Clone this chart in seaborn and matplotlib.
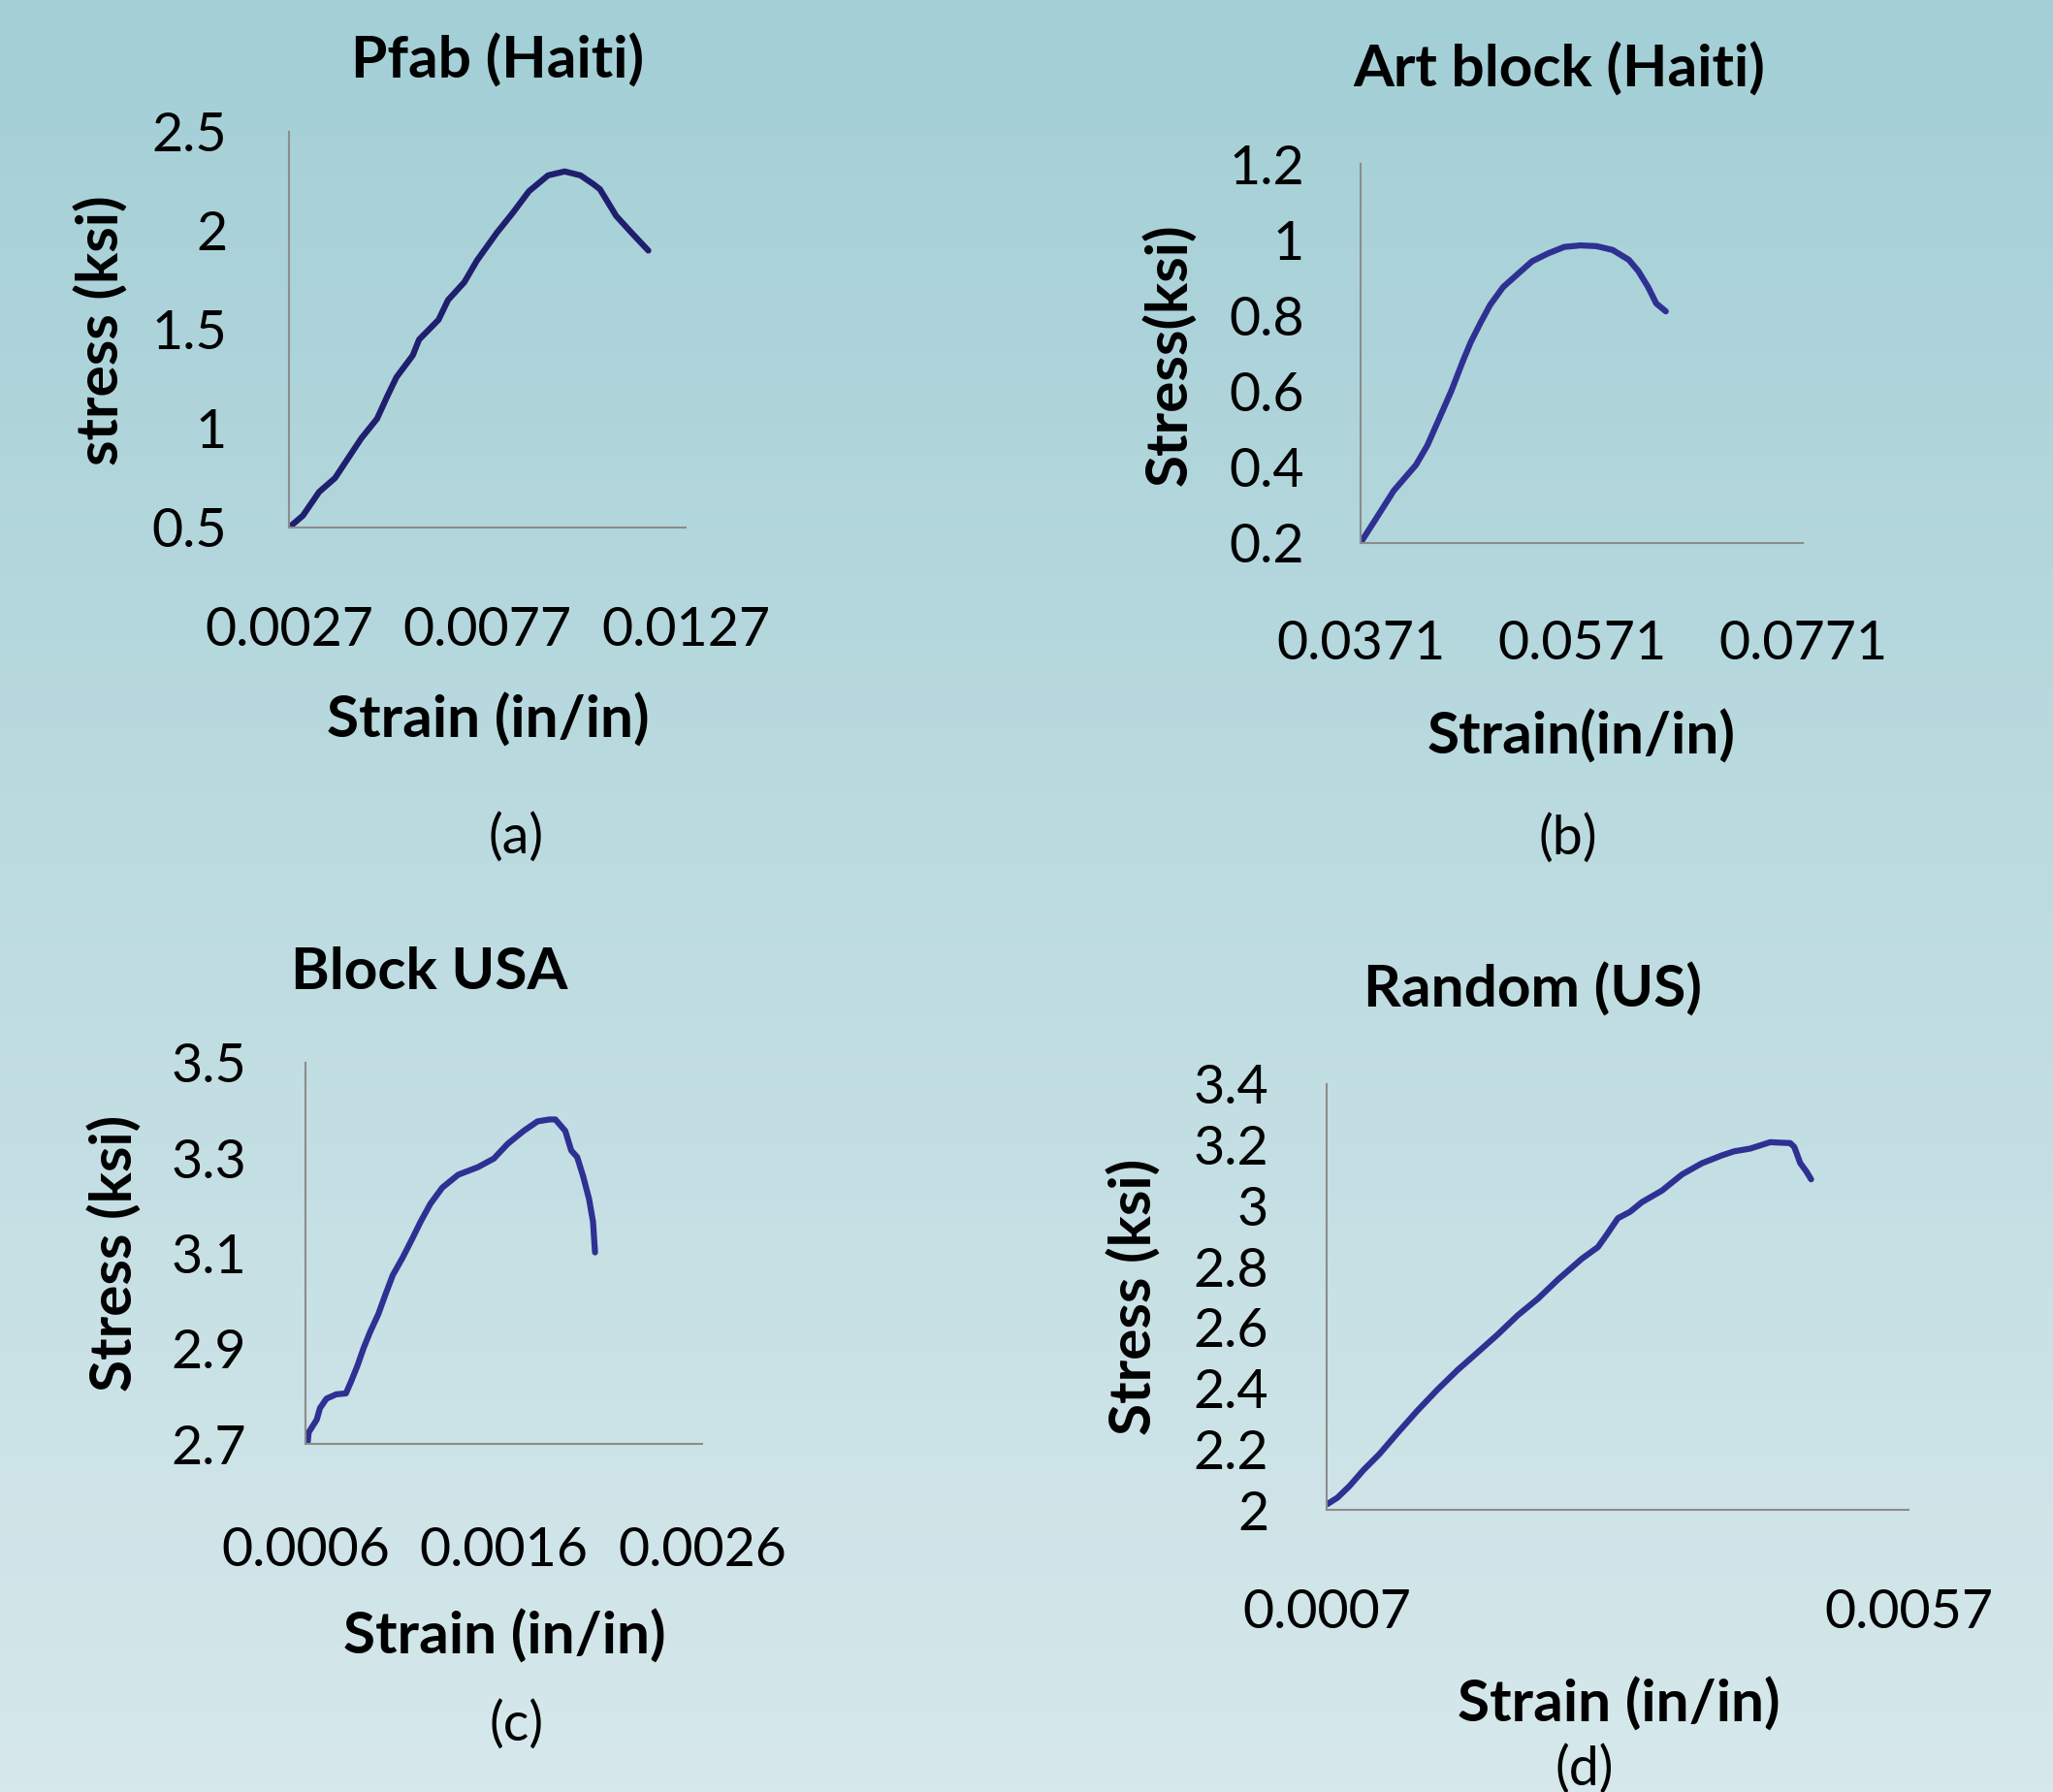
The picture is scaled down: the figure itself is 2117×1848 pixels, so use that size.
"""
Stress-strain curves for four masonry samples (2x2 panel)
"""
import numpy as np
import matplotlib.pyplot as plt
from matplotlib.colors import LinearSegmentedColormap
import seaborn as sns

W, H = 2117, 1848
NAVY_A = '#1f1f6e'
NAVY = '#2e3192'
SPINE = '#8c8c8c'

sns.set_theme(style='white')
plt.rcParams['font.family'] = ['Lato', 'DejaVu Sans']
plt.rcParams['text.color'] = 'black'

# ── DATA ─────────────────────────────────────────────────────────────────────
a_strain = [0.00270, 0.00305, 0.00346, 0.00386, 0.00419, 0.00452, 0.00492, 0.00517,
            0.00541, 0.00582, 0.00598, 0.00647, 0.00671, 0.00712, 0.00744, 0.00794,
            0.00834, 0.00875, 0.00923, 0.00965, 0.01005, 0.01038, 0.01054, 0.01095,
            0.01136, 0.01176]
a_stress = [0.50, 0.56, 0.68, 0.75, 0.85, 0.95, 1.05, 1.16, 1.26, 1.37, 1.45, 1.55,
            1.65, 1.74, 1.85, 1.99, 2.09, 2.20, 2.28, 2.30, 2.28, 2.235, 2.21, 2.075,
            1.985, 1.90]

b_strain = [0.03722, 0.03862, 0.04010, 0.04211, 0.04313, 0.04416, 0.04532, 0.04634,
            0.04707, 0.04795, 0.04882, 0.04999, 0.05145, 0.05261, 0.05407, 0.05553,
            0.05699, 0.05844, 0.05990, 0.06136, 0.06223, 0.06311, 0.06384, 0.06471]
b_stress = [0.206, 0.270, 0.338, 0.406, 0.457, 0.525, 0.602, 0.679, 0.730, 0.781,
            0.828, 0.875, 0.913, 0.943, 0.964, 0.981, 0.985, 0.983, 0.973, 0.947,
            0.917, 0.875, 0.832, 0.811]

c_strain = [0.000611, 0.000616, 0.000657, 0.000673, 0.000706, 0.000755, 0.000804,
            0.000828, 0.000861, 0.000893, 0.000926, 0.000967, 0.00100, 0.00104,
            0.00109, 0.00114, 0.00118, 0.00123, 0.00129, 0.00137, 0.00147, 0.00155,
            0.00162, 0.00170, 0.00177, 0.00183, 0.00186, 0.00191, 0.00194, 0.00197,
            0.00200, 0.00203, 0.00205, 0.00206]
c_stress = [2.703, 2.724, 2.751, 2.775, 2.795, 2.804, 2.806, 2.829, 2.863, 2.901,
            2.935, 2.972, 3.010, 3.054, 3.091, 3.132, 3.166, 3.204, 3.238, 3.265,
            3.281, 3.299, 3.330, 3.357, 3.377, 3.381, 3.381, 3.357, 3.316, 3.302,
            3.262, 3.214, 3.166, 3.102]

d_strain = [0.000707, 0.000793, 0.000896, 0.001017, 0.001155, 0.00131, 0.001482,
            0.001654, 0.001826, 0.001998, 0.002171, 0.002343, 0.002515, 0.002687,
            0.002894, 0.003031, 0.00310, 0.003203, 0.003307, 0.00341, 0.003582,
            0.003754, 0.003926, 0.004099, 0.004202, 0.00434, 0.004512, 0.004684,
            0.004719, 0.00477, 0.004822, 0.004863]
d_stress = [2.019, 2.040, 2.078, 2.131, 2.184, 2.253, 2.327, 2.396, 2.460, 2.518,
            2.577, 2.640, 2.694, 2.757, 2.826, 2.864, 2.901, 2.959, 2.980, 3.012,
            3.050, 3.103, 3.140, 3.166, 3.179, 3.188, 3.209, 3.206, 3.193, 3.140,
            3.113, 3.087]

a_xticks = [0.0027, 0.0077, 0.0127]
a_yticks = [0.5, 1, 1.5, 2, 2.5]
b_xticks = [0.0371, 0.0571, 0.0771]
b_yticks = [0.2, 0.4, 0.6, 0.8, 1.0, 1.2]
c_xticks = [0.0006, 0.0016, 0.0026]
c_yticks = [2.7, 2.9, 3.1, 3.3, 3.5]
d_xticks = [0.0007, 0.0057]
d_yticks = [2.0, 2.2, 2.4, 2.6, 2.8, 3.0, 3.2, 3.4]


def fx(px):
    return px / W


def fy(py):
    return 1 - py / H


fig = plt.figure(figsize=(W / 100, H / 100), dpi=100)

# gradient background
bg = fig.add_axes([0, 0, 1, 1], zorder=-10)
cmap = LinearSegmentedColormap.from_list('bg', ['#a3cfd6', '#d6e8eb'])
bg.imshow(np.linspace(0, 1, 256).reshape(-1, 1), aspect='auto', cmap=cmap,
          extent=[0, 1, 0, 1], origin='upper')
bg.axis('off')

panels = [
    dict(box=(298, 136, 707, 544), x=a_strain, y=a_stress, xt=a_xticks, yt=a_yticks,
         color=NAVY_A, title=('Pfab (Haiti)', 513, 63), ylab=('stress (ksi)', 105, 341),
         xlab=('Strain (in/in)', 503, 743), tag=('(a)', 532, 864), xpad=58, ypad=46),
    dict(box=(1403, 169, 1859, 560), x=b_strain, y=b_stress, xt=b_xticks, yt=b_yticks,
         color=NAVY, title=('Art block (Haiti)', 1608, 72), ylab=('Stress(ksi)', 1206, 366),
         xlab=('Strain(in/in)', 1631, 760), tag=('(b)', 1617, 865), xpad=57, ypad=42),
    dict(box=(315, 1096, 724, 1489), x=c_strain, y=c_stress, xt=c_xticks, yt=c_yticks,
         color=NAVY, title=('Block USA', 443, 1003), ylab=('Stress (ksi)', 119, 1292),
         xlab=('Strain (in/in)', 520, 1688), tag=('(c)', 533, 1779), xpad=61, ypad=44),
    dict(box=(1368, 1118, 1968, 1557), x=d_strain, y=d_stress, xt=d_xticks, yt=d_yticks,
         color=NAVY, title=('Random (US)', 1580, 1021), ylab=('Stress (ksi)', 1170, 1337),
         xlab=('Strain (in/in)', 1669, 1758), tag=('(d)', 1634, 1825), xpad=58, ypad=43),
]

FS = 40
FSB = 43.5

for p in panels:
    l, t, r, b = p['box']
    ax = fig.add_axes([fx(l), fy(b), fx(r) - fx(l), fy(t) - fy(b)])
    ax.set_facecolor('none')
    sns.lineplot(x=p['x'], y=p['y'], ax=ax, color=p['color'], lw=4.5,
                 sort=False, estimator=None)
    ax.set_xlim(p['xt'][0], p['xt'][-1])
    ax.set_ylim(p['yt'][0], p['yt'][-1])
    ax.set_xticks(p['xt'])
    ax.set_xticklabels([f'{v:.4f}' for v in p['xt']])
    ax.set_yticks(p['yt'])
    ax.set_yticklabels([f'{v:g}' for v in p['yt']])
    ax.tick_params(axis='both', length=0, labelsize=FS, labelcolor='black')
    ax.tick_params(axis='x', pad=p['xpad'])
    ax.tick_params(axis='y', pad=p['ypad'])
    for s in ['top', 'right']:
        ax.spines[s].set_visible(False)
    for s in ['left', 'bottom']:
        ax.spines[s].set_color(SPINE)
        ax.spines[s].set_linewidth(1.5)
    ax.grid(False)

    txt, x, y = p['title']
    fig.text(fx(x), fy(y), txt, ha='center', va='center', fontsize=FSB,
             fontweight='bold', color='black')
    txt, x, y = p['ylab']
    fig.text(fx(x), fy(y), txt, ha='center', va='center', fontsize=FSB,
             fontweight='bold', rotation=90, color='black')
    txt, x, y = p['xlab']
    fig.text(fx(x), fy(y), txt, ha='center', va='center', fontsize=FSB,
             fontweight='bold', color='black')
    txt, x, y = p['tag']
    fig.text(fx(x), fy(y), txt, ha='center', va='center', fontsize=FS, color='black')

plt.savefig('out.png', dpi=100)
plt.close()
